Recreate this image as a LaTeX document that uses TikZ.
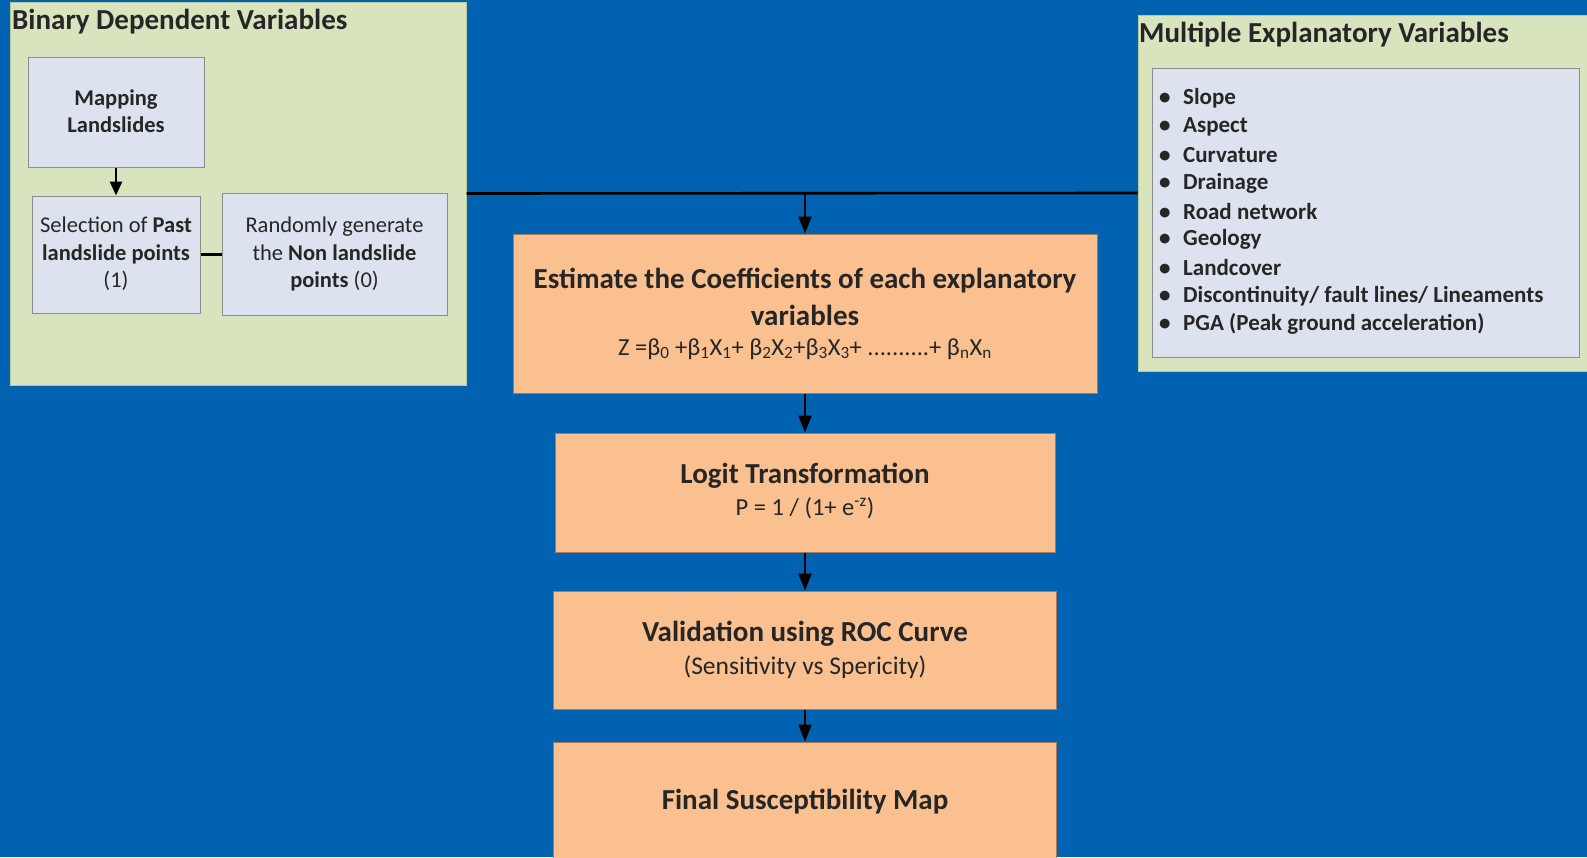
\documentclass[tikz,border=0pt]{standalone}
\usepackage{fontspec}
\setmainfont{Carlito}
\usetikzlibrary{arrows.meta}
\definecolor{bg}{HTML}{0062B1}
\definecolor{grn}{HTML}{D7E4BD}
\definecolor{grnb}{HTML}{B9C99A}
\definecolor{blu}{HTML}{DCE2EE}
\definecolor{blub}{HTML}{8C8C8C}
\definecolor{org}{HTML}{FAC090}
\definecolor{orgb}{HTML}{A87858}
\definecolor{txt}{HTML}{262626}
\begin{document}
\begin{tikzpicture}[x=1pt,y=-1pt,
 panel/.style={draw=grnb, fill=grn, line width=1pt, inner sep=0pt},
 subbox/.style={draw=blub, fill=blu, line width=1pt, inner sep=0pt},
 subtext/.style={align=center, inner sep=0pt, text=txt, font=\fontsize{22.5}{27.5}\selectfont},
 stepbox/.style={draw=orgb, fill=org, line width=1pt, inner sep=0pt},
 steptitle/.style={inner sep=0pt, text=txt, font=\fontsize{29}{34}\selectfont\bfseries},
 stepsub/.style={inner sep=0pt, text=txt, font=\fontsize{24.5}{30}\selectfont},
 ptitle/.style={anchor=west, inner sep=0pt, text=txt, font=\fontsize{29}{32}\selectfont\bfseries},
 item/.style={anchor=west, inner sep=0pt, text=txt, font=\fontsize{23}{28}\selectfont\bfseries},
 arr/.style={-{Triangle[length=17pt,width=13pt]}, line width=2.6pt, black},
 smallarr/.style={-{Triangle[length=14pt,width=12pt]}, line width=2.6pt, black},
 conn/.style={line width=2.6pt, black}]
\fill[bg] (0,0) rectangle (1587,857);
\useasboundingbox (0,0) rectangle (1587,857);
% left panel
\node[panel, minimum width=456pt, minimum height=383pt] (lg) at (238,193.5) {};
\node[ptitle] (lgt) at (12,22) {Binary Dependent Variables};
\node[subbox, minimum width=176pt, minimum height=110pt] (map) at (116,112) {};
\node[subtext, font=\fontsize{22.5}{27.5}\selectfont\bfseries] (mapt) at (116,111) {Mapping\\Landslides};
\node[subbox, minimum width=168pt, minimum height=117pt] (sel) at (116,254.5) {};
\node[subtext] (selt) at (116,254) {Selection of \textbf{Past}\\\textbf{landslide points}\\(1)};
\node[subbox, minimum width=225pt, minimum height=122pt] (rnd) at (334.5,254) {};
\node[subtext] (rndt) at (334.5,254) {Randomly generate\\the \textbf{Non landslide}\\\textbf{points} (0)};
\draw[smallarr] (map.south) -- (sel.north);
\draw[conn] (sel.east) -- (rnd.west |- sel.east);
% right panel
\node[panel, minimum width=454pt, minimum height=356pt] (rg) at (1365,193) {};
\node[ptitle] (rgt) at (1139,35) {Multiple Explanatory Variables};
\node[subbox, minimum width=427pt, minimum height=289pt] (vars) at (1365.5,212.5) {};
\foreach \t [count=\i from 0] in {Slope,Aspect,Curvature,Drainage,Road network,Geology,Landcover,Discontinuity/ fault lines/ Lineaments,PGA (Peak ground acceleration)}
  \node[item] (b\i) at (1159,98.5+28.2*\i) {\makebox[24pt][l]{\textbullet}\t};
% flow
\coordinate (j) at (805,193);
\draw[conn] (lg.east) -- (rg.west);
\node[stepbox, minimum width=584pt, minimum height=159pt] (est) at (805,313.5) {};
\node[steptitle] (est1) at (805,281) {Estimate the Coefficients of each explanatory};
\node[steptitle] (est2) at (805,315) {variables};
\node[stepsub] (est3) at (805,349) {Z =β\textsubscript{0} +β\textsubscript{1}X\textsubscript{1}+ β\textsubscript{2}X\textsubscript{2}+β\textsubscript{3}X\textsubscript{3}+ ..........+ β\textsubscript{n}X\textsubscript{n}};
\draw[arr] (j) -- (est.north);
\node[stepbox, minimum width=500pt, minimum height=119pt] (logit) at (805,492.5) {};
\node[steptitle] (logit1) at (805,476) {Logit Transformation};
\node[stepsub] (logit2) at (805,508) {P = 1 / (1+ e\textsuperscript{-z})};
\node[stepbox, minimum width=503pt, minimum height=118pt] (val) at (805,650) {};
\node[steptitle] (val1) at (805,634) {Validation using ROC Curve};
\node[stepsub, font=\fontsize{25.5}{30}\selectfont] (val2) at (805,667) {(Sensitivity vs Spericity)};
\node[stepbox, minimum width=503pt, minimum height=118pt] (fin) at (805,801) {};
\node[steptitle] (fin1) at (805,802) {Final Susceptibility Map};
\draw[arr] (est.south) -- (logit.north);
\draw[arr] (logit.south) -- (val.north);
\draw[arr] (val.south) -- (fin.north);
\end{tikzpicture}
\end{document}
